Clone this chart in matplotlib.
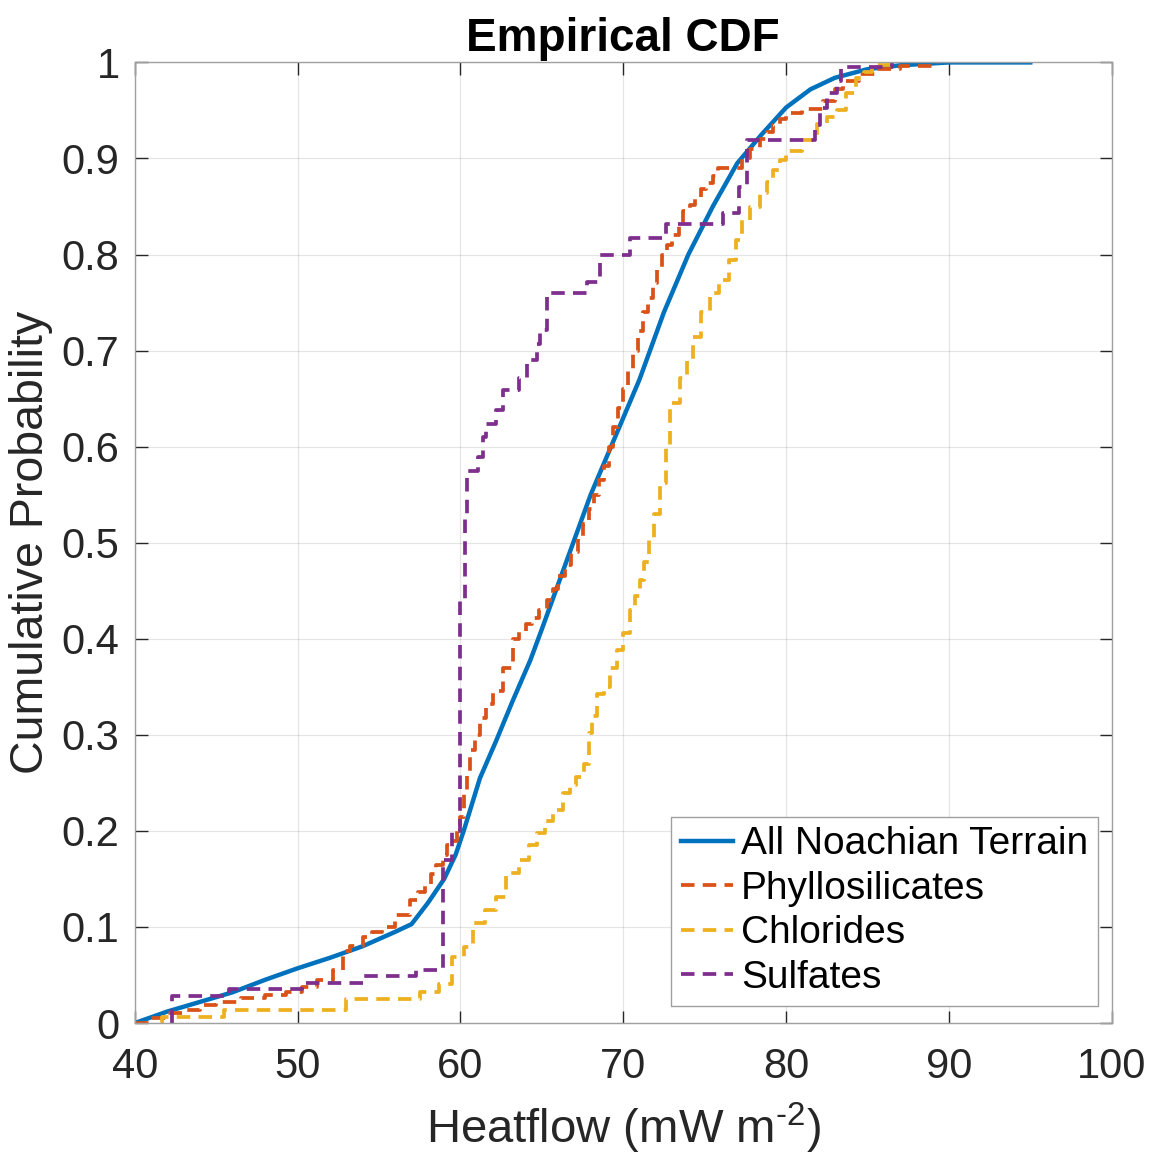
import matplotlib
matplotlib.use('Agg')
import matplotlib.pyplot as plt

plt.rcParams['font.family'] = ['Liberation Sans', 'DejaVu Sans']
plt.rcParams['mathtext.fontset'] = 'custom'
plt.rcParams['mathtext.rm'] = 'Liberation Sans'
plt.rcParams['mathtext.it'] = 'Liberation Sans:italic'
plt.rcParams['mathtext.bf'] = 'Liberation Sans:bold'

# All Noachian Terrain (dense ECDF, drawn as a line)
todos_x = [40, 42, 44, 46, 48, 50, 52, 54, 56, 57, 58, 59, 59.7, 60.2, 60.6, 61.2, 62.2,
           63.2, 64.3, 65, 66.5, 68, 69.5, 71, 72.5, 74, 75.5, 77, 78.5, 80, 81.5, 83, 85, 87,
           90, 95]
todos_y = [0, 0.012, 0.022, 0.032, 0.045, 0.057, 0.068, 0.08, 0.095, 0.103, 0.125, 0.15, 0.175,
           0.2, 0.222, 0.255, 0.294, 0.335, 0.378, 0.41, 0.48, 0.55, 0.61, 0.67, 0.74, 0.80,
           0.85, 0.895, 0.925, 0.953, 0.972, 0.984, 0.993, 0.997, 1.0, 1.0]

# Phyllosilicates (stairs)
filo_x = [40.0, 41.0, 42.0, 43.0, 44.0, 45.0, 46.5, 48.0, 49.3, 50.3, 51.2, 52.2, 52.8, 53.2,
          54.0, 54.6, 55.2, 56.0, 56.9, 57.4, 57.8, 58.2, 58.5, 58.9, 59.2, 59.5, 59.8, 60.0,
          60.2, 60.4, 60.6, 60.9, 61.2, 61.6, 62.0, 62.6, 63.2, 63.6, 64.0, 64.4, 64.8, 65.3,
          65.7, 66.0, 66.4, 66.8, 67.2, 67.5, 67.9, 68.2, 68.5, 68.8, 69.1, 69.4, 69.7, 70.0,
          70.3, 70.6, 70.9, 71.2, 71.5, 71.8, 72.1, 72.4, 72.7, 73.0, 73.4, 73.7, 74.1, 74.4,
          74.8, 75.1, 75.5, 75.8, 77.3, 77.8, 78.4, 78.8, 79.2, 79.6, 80.0, 81.0, 82.3, 83.0,
          83.5, 84.5, 85.5, 87.0, 89.3]
filo_y = [0.0, 0.005, 0.010, 0.014, 0.019, 0.022, 0.026, 0.029, 0.032, 0.038, 0.045, 0.055,
          0.075, 0.08, 0.09, 0.095, 0.10, 0.112, 0.128, 0.136, 0.145, 0.155, 0.165, 0.175,
          0.185, 0.19, 0.20, 0.215, 0.24, 0.26, 0.284, 0.30, 0.318, 0.332, 0.346, 0.37, 0.40,
          0.408, 0.415, 0.422, 0.43, 0.44, 0.452, 0.465, 0.477, 0.49, 0.505, 0.52, 0.535,
          0.55, 0.565, 0.58, 0.60, 0.62, 0.64, 0.66, 0.68, 0.70, 0.72, 0.74, 0.755, 0.77,
          0.785, 0.80, 0.81, 0.82, 0.832, 0.845, 0.852, 0.86, 0.868, 0.875, 0.882, 0.89, 0.90,
          0.91, 0.92, 0.928, 0.935, 0.941, 0.947, 0.952, 0.96, 0.972, 0.981, 0.988, 0.993,
          0.996, 1.0]

# Chlorides (stairs)
cloro_x = [41.6, 41.7, 45.5, 53.0, 57.5, 58.7, 59.5, 60.2, 60.8, 61.5, 62.2, 62.8, 63.6, 64.2,
           64.7, 65.2, 65.7, 66.3, 66.7, 67.1, 67.6, 67.9, 68.1, 68.4, 68.8, 69.2, 69.6, 70.0,
           70.4, 70.7, 71.0, 71.3, 71.6, 71.9, 72.25, 72.6, 72.9, 73.5, 73.9, 74.3, 74.8, 75.3,
           75.9, 76.5, 76.9, 77.3, 77.8, 78.4, 78.8, 79.2, 79.6, 80.0, 81.0, 81.9, 82.5, 83.1,
           83.7, 84.3, 84.8, 85.3, 86.5]
cloro_y = [0.0, 0.006, 0.0135, 0.025, 0.032, 0.041, 0.069, 0.079, 0.104, 0.118, 0.131, 0.156,
           0.17, 0.185, 0.198, 0.21, 0.222, 0.239, 0.248, 0.256, 0.27, 0.302, 0.32, 0.343,
           0.35, 0.37, 0.388, 0.406, 0.43, 0.445, 0.461, 0.48, 0.503, 0.53, 0.562, 0.6, 0.645,
           0.672, 0.69, 0.714, 0.74, 0.76, 0.773, 0.794, 0.815, 0.836, 0.85, 0.864, 0.876,
           0.888, 0.898, 0.908, 0.919, 0.936, 0.943, 0.95, 0.968, 0.984, 0.99, 0.997, 1.0]

# Sulfates (stairs)
sulf_x = [42.3, 42.3, 45.8, 50.3, 54.0, 57.3, 58.9, 59.5, 60.0, 60.3, 60.4, 61.1, 61.4, 61.6,
          62.2, 62.6, 63.6, 64.1, 64.7, 64.9, 65.3, 67.8, 68.6, 70.4, 72.6, 76.1, 77.1, 77.6,
          81.8, 82.1, 82.5, 83.1, 83.4, 86.5]
sulf_y = [0.0, 0.028, 0.035, 0.042, 0.049, 0.055, 0.17, 0.20, 0.44, 0.53, 0.575, 0.589, 0.61,
          0.624, 0.638, 0.659, 0.672, 0.69, 0.707, 0.721, 0.76, 0.771, 0.80, 0.817, 0.832,
          0.843, 0.87, 0.919, 0.935, 0.953, 0.968, 0.981, 0.995, 1.0]

rotulos = ['All Noachian Terrain', 'Phyllosilicates', 'Chlorides', 'Sulfates']

fig = plt.figure(figsize=(11.52, 11.56), dpi=100)
ax = fig.add_axes([0.117, 0.115, 0.848, 0.831])

ax.plot(todos_x, todos_y, color='#0072BD', lw=3.2, label=rotulos[0])
ax.plot(filo_x, filo_y, color='#D95319', lw=2.7, ls='--', dashes=(3.6, 2.2),
        drawstyle='steps-post', label=rotulos[1])
ax.plot(cloro_x, cloro_y, color='#EDB120', lw=2.7, ls='--', dashes=(3.6, 2.2),
        drawstyle='steps-post', label=rotulos[2])
ax.plot(sulf_x, sulf_y, color='#7E2F8E', lw=2.7, ls='--', dashes=(3.6, 2.2),
        drawstyle='steps-post', label=rotulos[3])

ax.set_xlim(40, 100)
ax.set_ylim(0, 1)
ax.set_xticks(range(40, 101, 10))
ax.set_yticks([i / 10 for i in range(11)])
ax.set_yticklabels(['0', '0.1', '0.2', '0.3', '0.4', '0.5', '0.6', '0.7', '0.8', '0.9', '1'])
ax.tick_params(direction='in', length=9, width=1, colors='#262626', labelsize=30,
               top=True, right=True)
ax.tick_params(axis='x', pad=17)
ax.tick_params(axis='y', pad=11)
ax.grid(True, color='#000000', alpha=0.1, lw=0.9)
for s in ax.spines.values():
    s.set_color('#a0a0a0')
    s.set_linewidth(1.0)

ax.set_title('Empirical CDF', fontsize=33, fontweight='bold', pad=8)
ax.set_xlabel(r'Heatflow (mW m$^{\text{-2}}$)', fontsize=34, color='#262626', labelpad=10)
ax.set_ylabel('Cumulative Probability', fontsize=33.5, color='#262626', labelpad=6)

leg = ax.legend(loc='lower right', bbox_to_anchor=(0.986, 0.018), borderaxespad=0,
                fontsize=28, handlelength=1.35, handletextpad=0.2, labelspacing=0.22,
                borderpad=0.25, fancybox=False, framealpha=1)
leg.get_frame().set_edgecolor('#a0a0a0')
leg.get_frame().set_linewidth(1.0)

fig.savefig('out.png', dpi=100)
